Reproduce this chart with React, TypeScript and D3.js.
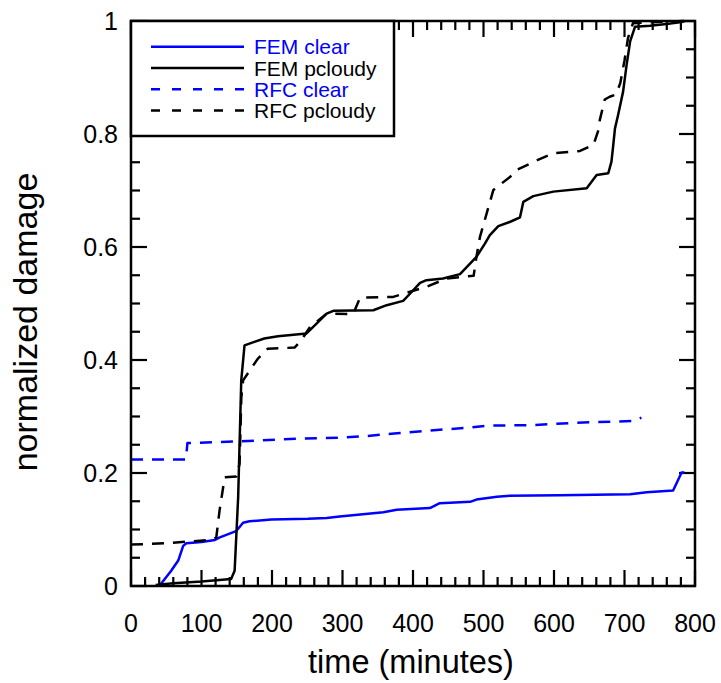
import React from "react";
import * as d3 from "d3";

const xTicks = [0, 100, 200, 300, 400, 500, 600, 700, 800];
const yTicks = [0, 0.2, 0.4, 0.6, 0.8, 1];
const yTickLabels = ["0", "0.2", "0.4", "0.6", "0.8", "1"];

const femClearT = [38, 44, 57, 67, 74, 78.5, 100, 119, 126, 149, 159, 168, 199, 251, 277.5, 296, 358, 377, 424, 438, 481, 490, 519, 533, 608.5, 708, 731.5, 769, 781, 785];
const femClearV = [0.0, 0.006, 0.027, 0.045, 0.071, 0.0755, 0.078, 0.0815, 0.086, 0.097, 0.112, 0.1145, 0.1175, 0.119, 0.1205, 0.123, 0.1305, 0.135, 0.138, 0.1465, 0.149, 0.153, 0.158, 0.1595, 0.1606, 0.1624, 0.166, 0.169, 0.201, 0.201];

const femPcloudyT = [35, 60, 100, 142, 147, 152, 156.4, 161, 175, 189, 208.5, 249, 258.5, 277.5, 287, 343.7, 362.7, 386, 396, 410, 419, 442.6, 466.7, 490, 502, 509, 521, 538, 551.8, 556.5, 570.6, 599, 646.4, 660.5, 677, 681.5, 684, 686.5, 691, 698, 703, 708, 715, 736, 759.6, 781, 785];
const femPcloudyV = [0.002, 0.005, 0.008, 0.0124, 0.027, 0.157, 0.364, 0.426, 0.432, 0.438, 0.442, 0.447, 0.4585, 0.482, 0.487, 0.488, 0.497, 0.5046, 0.5177, 0.5366, 0.5413, 0.5443, 0.552, 0.5826, 0.606, 0.621, 0.637, 0.6447, 0.6525, 0.68, 0.69, 0.698, 0.704, 0.7275, 0.7305, 0.751, 0.78, 0.81, 0.834, 0.875, 0.9225, 0.964, 0.99, 0.9917, 0.9947, 0.998, 1.0];

const rfcClearT = [0, 78, 80, 152, 240, 296, 329.5, 381.6, 438, 476, 509, 570.6, 632, 712.5, 724];
const rfcClearV = [0.224, 0.224, 0.253, 0.256, 0.261, 0.2624, 0.265, 0.2706, 0.2766, 0.28, 0.284, 0.2848, 0.289, 0.292, 0.298];

const rfcPcloudyT = [0, 47, 114, 121, 125.6, 132.9, 149.4, 154, 156.5, 159, 180, 194, 232, 241.6, 254, 277.5, 315, 325, 372, 419, 447.8, 476, 486, 490, 495, 504.5, 514, 538, 547, 575, 599, 636.9, 656, 663, 665, 672, 679, 688, 694, 700, 705, 712, 740, 770, 785];
const rfcPcloudyV = [0.0733, 0.0755, 0.0815, 0.086, 0.1335, 0.1926, 0.194, 0.216, 0.334, 0.364, 0.4025, 0.42, 0.422, 0.435, 0.4585, 0.482, 0.481, 0.5106, 0.5117, 0.5295, 0.5443, 0.548, 0.549, 0.5826, 0.618, 0.6596, 0.701, 0.7245, 0.7363, 0.753, 0.766, 0.77, 0.7807, 0.807, 0.825, 0.861, 0.866, 0.87, 0.89, 0.93, 0.97, 0.996, 0.998, 0.999, 1.0];

const seriesNames = ["FEM clear", "FEM pcloudy", "RFC clear", "RFC pcloudy"];
const seriesColors = ["#0000ff", "#000000", "#0000ff", "#000000"];
const seriesDashed = [false, false, true, true];

const W = 721, H = 683;
const L = 131, R = 695, T = 21, B = 586;
const FONT = "'Liberation Sans', Arial, sans-serif";

export default function App() {
  const x = d3.scaleLinear().domain([0, 800]).range([L, R]);
  const y = d3.scaleLinear().domain([0, 1]).range([B, T]);
  const line = d3.line<[number, number]>().x((d) => x(d[0])).y((d) => y(d[1]));
  const zip = (t: number[], v: number[]) => t.map((tt, i) => [tt, v[i]] as [number, number]);
  const series = [
    zip(femClearT, femClearV),
    zip(femPcloudyT, femPcloudyV),
    zip(rfcClearT, rfcClearV),
    zip(rfcPcloudyT, rfcPcloudyV),
  ];
  const xMinor = d3.range(0, 801, 20);
  const yMinor = d3.range(0, 1.0001, 0.05);
  const majLen = 16, minLen = 9;
  const isMajX = (v: number) => Math.abs(v % 100) < 1e-6;
  const isMajY = (v: number) => Math.abs(Math.round(v * 5) - v * 5) < 1e-6;

  const legendRows = [46.7, 68, 89.3, 110.5];

  return (
    <svg width={W} height={H} style={{ position: "absolute", left: 0, top: 0 }} fontFamily={FONT}>
      <rect x={0} y={0} width={W} height={H} fill="#fff" />
      <defs>
        <clipPath id="plotclip">
          <rect x={L} y={T - 2} width={R - L} height={B - T + 2} />
        </clipPath>
      </defs>
      {/* ticks */}
      <g stroke="#000" strokeWidth={2.2}>
        {xMinor.map((v) => {
          const len = isMajX(v) ? majLen : minLen;
          return (
            <g key={"xt" + v}>
              <line x1={x(v)} x2={x(v)} y1={B} y2={B - len} />
              <line x1={x(v)} x2={x(v)} y1={T} y2={T + len} />
            </g>
          );
        })}
        {yMinor.map((v) => {
          const len = isMajY(v) ? majLen : minLen;
          return (
            <g key={"yt" + v}>
              <line x1={L} x2={L + len} y1={y(v)} y2={y(v)} />
              <line x1={R} x2={R - len} y1={y(v)} y2={y(v)} />
            </g>
          );
        })}
      </g>
      {/* series */}
      <g clipPath="url(#plotclip)" fill="none" strokeLinejoin="round">
        {series.map((s, i) => (
          <path
            key={seriesNames[i]}
            d={line(s) || ""}
            stroke={seriesColors[i]}
            strokeWidth={2.5}
            strokeDasharray={seriesDashed[i] ? "12,9" : undefined}
          />
        ))}
      </g>
      {/* frame */}
      <rect x={L} y={T} width={R - L} height={B - T} fill="none" stroke="#000" strokeWidth={2.5} />
      {/* tick labels */}
      <g fontSize={25} fill="#000">
        {xTicks.map((v) => (
          <text key={"xl" + v} x={x(v)} y={631.5} textAnchor="middle">
            {v}
          </text>
        ))}
        {yTicks.map((v, i) => (
          <text key={"yl" + v} x={118} y={y(v) + 9} textAnchor="end">
            {yTickLabels[i]}
          </text>
        ))}
      </g>
      {/* axis titles */}
      <text x={411} y={673} fontSize={32.5} textAnchor="middle" fill="#000">
        time (minutes)
      </text>
      <text
        transform={`translate(37,${322}) rotate(-90)`}
        fontSize={34}
        textAnchor="middle"
        fill="#000"
      >
        normalized damage
      </text>
      {/* legend */}
      <rect x={L} y={T} width={394 - L} height={136 - T} fill="#fff" stroke="#000" strokeWidth={2.5} />
      {seriesNames.map((n, i) => (
        <g key={"lg" + n}>
          <line
            x1={151}
            x2={244}
            y1={legendRows[i]}
            y2={legendRows[i]}
            stroke={seriesColors[i]}
            strokeWidth={2.5}
            strokeDasharray={seriesDashed[i] ? "9,12" : undefined}
          />
          <text x={254} y={legendRows[i] + 7.5} fontSize={21} fill={seriesColors[i]}>
            {n}
          </text>
        </g>
      ))}
    </svg>
  );
}
